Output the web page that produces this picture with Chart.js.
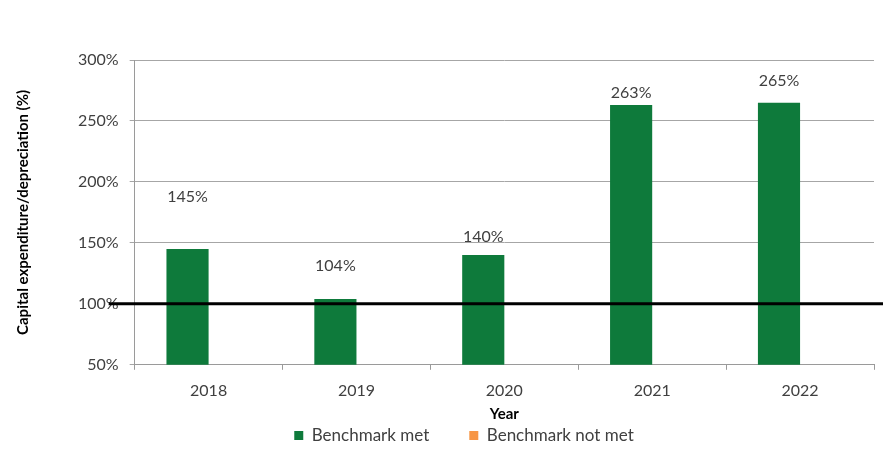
<!DOCTYPE html>
<html>
<head>
<meta charset="utf-8">
<script src="https://cdn.jsdelivr.net/npm/chart.js@4/dist/chart.umd.min.js"></script>
<style>
  html, body { margin: 0; padding: 0; background: #ffffff; }
  #wrap { width: 883px; height: 470px; position: relative; }
</style>
</head>
<body>
<div id="wrap"><canvas id="c" width="883" height="470"></canvas></div>
<script>
// Capital expenditure as a share of depreciation, by year
const years = ['2018', '2019', '2020', '2021', '2022'];
const benchmarkMet = [145, 104, 140, 263, 265];
const benchmarkNotMet = [null, null, null, null, null];
const benchmarkLevel = 100;
const yTicks = [50, 100, 150, 200, 250, 300];

// How far above each bar its value label sits (px)
const labelLift = [52, 33, 18, 12, 22];

const FONT = 'Lato, "Open Sans", sans-serif';

const overlay = {
  id: 'overlay',
  afterLayout(chart) {
    // pull the legend row up under the axis title and a little to the right
    const lg = chart.legend;
    if (lg) {
      lg.left += 20;
      lg.right += 20;
      lg.top -= 18;
      lg.bottom -= 18;
    }
  },
  afterDatasetsDraw(chart) {
    const ctx = chart.ctx;
    const y = chart.scales.y;
    const area = chart.chartArea;
    const meta = chart.getDatasetMeta(0);
    // benchmark line at 100%
    const yb = y.getPixelForValue(benchmarkLevel);
    ctx.save();
    ctx.strokeStyle = '#000000';
    ctx.lineWidth = 3;
    ctx.beginPath();
    ctx.moveTo(area.left - 26, yb);
    ctx.lineTo(chart.width, yb);
    ctx.stroke();
    // value labels
    ctx.fillStyle = '#404040';
    ctx.font = '16px ' + FONT;
    ctx.textAlign = 'center';
    ctx.textBaseline = 'middle';
    meta.data.forEach((bar, i) => {
      const v = benchmarkMet[i];
      if (v == null) return;
      ctx.fillText(v + '%', bar.x, bar.y - labelLift[i]);
    });
    ctx.restore();
  }
};

new Chart(document.getElementById('c'), {
  type: 'bar',
  data: {
    labels: years,
    datasets: [
      {
        label: 'Benchmark met',
        data: benchmarkMet,
        backgroundColor: '#0E7A3B',
        borderWidth: 0,
        barPercentage: 1,
        categoryPercentage: 0.57
      },
      {
        label: 'Benchmark not met',
        data: benchmarkNotMet,
        backgroundColor: '#F79646',
        borderWidth: 0,
        barPercentage: 1,
        categoryPercentage: 0.57
      }
    ]
  },
  options: {
    responsive: false,
    animation: false,
    devicePixelRatio: 1,
    layout: { padding: { top: 60, right: 9, left: 14, bottom: -2 } },
    scales: {
      x: {
        offset: true,
        grid: {
          offset: true,
          drawOnChartArea: false,
          drawTicks: true,
          tickLength: 5,
          color: '#9a9a9a'
        },
        border: { color: '#9a9a9a', width: 1 },
        ticks: { color: '#404040', font: { family: FONT, size: 16 }, padding: 11 },
        title: {
          display: true,
          text: 'Year',
          color: '#000000',
          font: { family: FONT, size: 15, weight: 'bold' },
          padding: { top: -6, bottom: -18 }
        }
      },
      y: {
        min: 50,
        max: 300,
        afterBuildTicks(scale) { scale.ticks = yTicks.map(v => ({ value: v })); },
        grid: {
          color: '#a6a6a6',
          lineWidth: 1,
          tickLength: 5,
          drawTicks: true
        },
        border: { color: '#9a9a9a', width: 1 },
        ticks: {
          color: '#404040',
          font: { family: FONT, size: 16 },
          padding: 11,
          callback: v => v + '%'
        },
        title: {
          display: true,
          text: 'Capital expenditure/depreciation (%)',
          color: '#000000',
          font: { family: FONT, size: 15, weight: 'bold' },
          padding: { top: 0, bottom: 35 }
        }
      }
    },
    plugins: {
      legend: {
        position: 'bottom',
        labels: {
          boxWidth: 9,
          boxHeight: 9,
          padding: 40,
          color: '#404040',
          font: { family: FONT, size: 17 }
        }
      },
      tooltip: { enabled: false }
    }
  },
  plugins: [overlay]
});
</script>
</body>
</html>
